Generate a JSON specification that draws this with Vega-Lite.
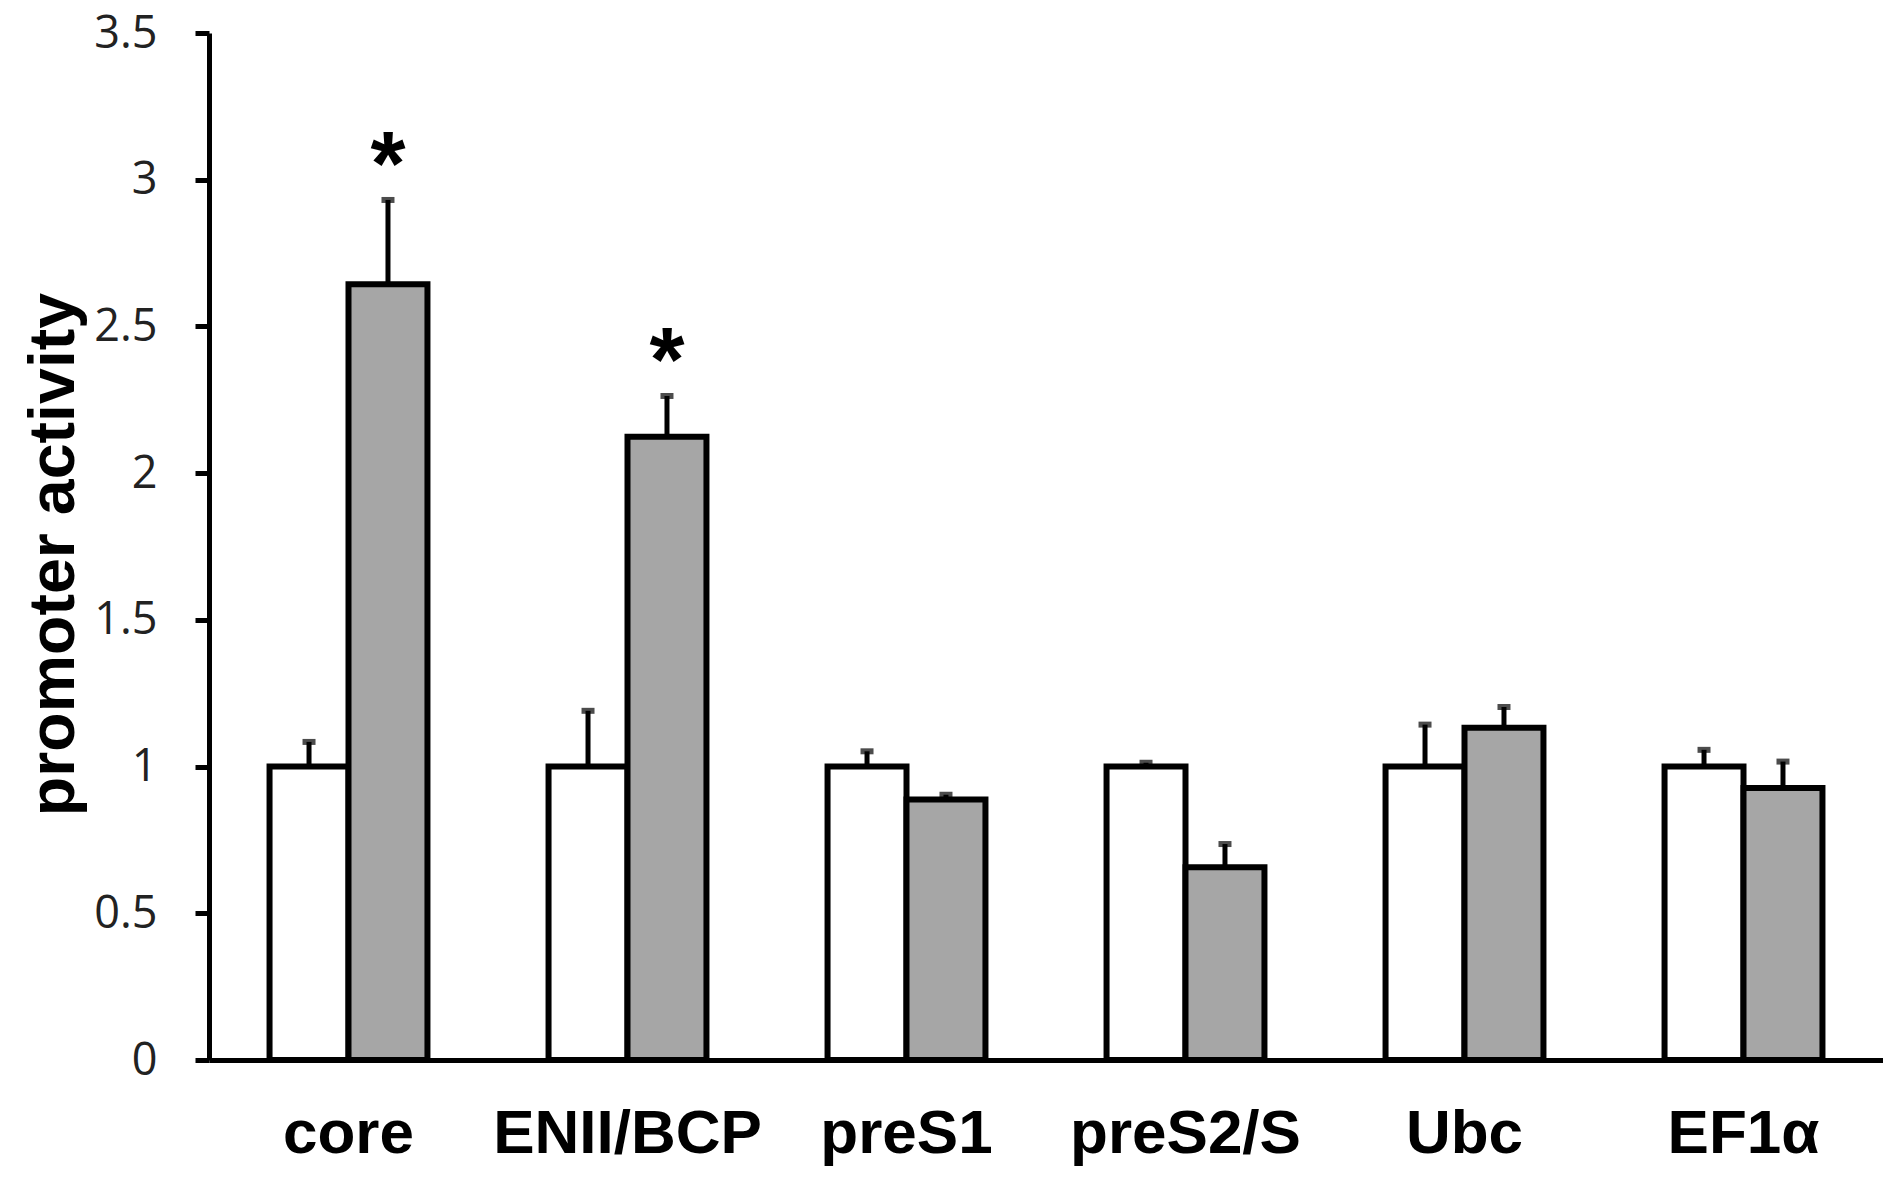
{
  "$schema": "https://vega.github.io/schema/vega-lite/v6.json",
  "autosize": {"type": "none"},
  "width": 1674,
  "height": 1027,
  "padding": {"left": 209, "top": 33, "right": 0, "bottom": 132},
  "background": "white",
  "config": {
    "view": {"stroke": null},
    "font": "Liberation Sans"
  },
  "data": {
    "values": [
      {"promoter": "core", "group": "control", "mean": 1.0, "upper": 1.084, "star": ""},
      {"promoter": "core", "group": "treatment", "mean": 2.644, "upper": 2.931, "star": "*"},
      {"promoter": "ENII/BCP", "group": "control", "mean": 1.0, "upper": 1.19, "star": ""},
      {"promoter": "ENII/BCP", "group": "treatment", "mean": 2.124, "upper": 2.263, "star": "*"},
      {"promoter": "preS1", "group": "control", "mean": 1.0, "upper": 1.052, "star": ""},
      {"promoter": "preS1", "group": "treatment", "mean": 0.888, "upper": 0.904, "star": ""},
      {"promoter": "preS2/S", "group": "control", "mean": 1.0, "upper": 1.013, "star": ""},
      {"promoter": "preS2/S", "group": "treatment", "mean": 0.657, "upper": 0.736, "star": ""},
      {"promoter": "Ubc", "group": "control", "mean": 1.0, "upper": 1.143, "star": ""},
      {"promoter": "Ubc", "group": "treatment", "mean": 1.132, "upper": 1.203, "star": ""},
      {"promoter": "EF1α", "group": "control", "mean": 1.0, "upper": 1.057, "star": ""},
      {"promoter": "EF1α", "group": "treatment", "mean": 0.927, "upper": 1.017, "star": ""}
    ]
  },
  "encoding": {
    "x": {
      "field": "promoter",
      "type": "nominal",
      "sort": null,
      "scale": {"paddingInner": 0.434, "paddingOuter": 0.217},
      "axis": {
        "title": null,
        "labelAngle": 0,
        "labelLimit": 0,
        "labelFont": "Liberation Sans",
        "labelFontWeight": "bold",
        "labelFontSize": 62,
        "labelColor": "black",
        "labelBaseline": "alphabetic",
        "labelPadding": 92,
        "ticks": false,
        "tickSize": 0,
        "domainColor": "black",
        "domainWidth": 5,
        "grid": false
      }
    },
    "xOffset": {"field": "group", "type": "nominal", "sort": ["control", "treatment"], "scale": {"paddingInner": 0, "paddingOuter": 0}}
  },
  "layer": [
    {
      "mark": {"type": "rule", "stroke": "black", "strokeWidth": 5},
      "encoding": {
        "y": {"field": "mean", "type": "quantitative"},
        "y2": {"field": "upper"}
      }
    },
    {
      "mark": {"type": "tick", "orient": "horizontal", "color": "black", "size": 13, "thickness": 6},
      "encoding": {
        "y": {"field": "upper", "type": "quantitative"}
      }
    },
    {
      "mark": {"type": "bar", "stroke": "black", "strokeWidth": 6, "strokeJoin": "miter"},
      "encoding": {
        "y": {
          "field": "mean",
          "type": "quantitative",
          "scale": {"domain": [0, 3.5], "nice": false, "zero": true},
          "axis": {
            "title": "promoter activity",
            "titleFont": "Liberation Sans",
            "titleFontWeight": "bold",
            "titleFontSize": 64.5,
            "titleColor": "black",
            "titleAngle": 270,
            "titleAlign": "center",
            "titleBaseline": "middle",
            "titleX": -155,
            "titleY": 521,
            "values": [0, 0.5, 1, 1.5, 2, 2.5, 3, 3.5],
            "format": "~g",
            "labelFont": "Open Sans",
            "labelFontSize": 45,
            "labelColor": "#222222",
            "labelPadding": 38,
            "tickSize": 14,
            "tickWidth": 5,
            "tickColor": "black",
            "domainColor": "black",
            "domainWidth": 5,
            "grid": false
          }
        },
        "fill": {
          "field": "group",
          "type": "nominal",
          "scale": {"domain": ["control", "treatment"], "range": ["#ffffff", "#a6a6a6"]},
          "legend": null
        }
      }
    },
    {
      "mark": {"type": "text", "font": "Liberation Sans", "fontWeight": "bold", "fontSize": 90, "baseline": "alphabetic", "dy": -5, "color": "black"},
      "encoding": {
        "y": {"field": "upper", "type": "quantitative"},
        "text": {"field": "star"}
      }
    }
  ]
}
